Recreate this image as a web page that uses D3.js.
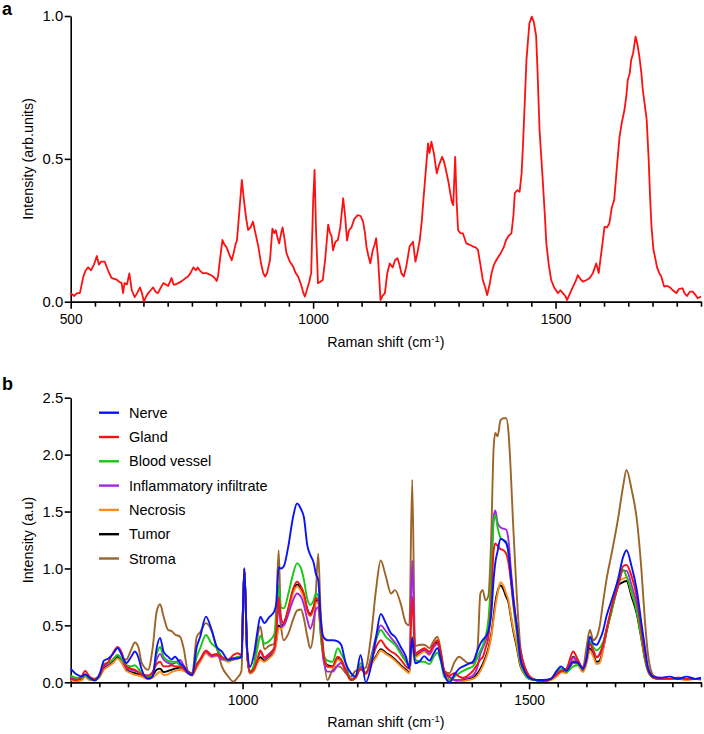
<!DOCTYPE html>
<html lang="en">
<head>
<meta charset="UTF-8" />
<title>Raman spectra</title>
<style>
  body { margin: 0; background: #fff; }
  svg { display: block; font-family: "Liberation Sans", Arial, sans-serif; }
  .axis path, .axis line { stroke: #000; stroke-width: 1.6px; }
  .axis text { fill: #000; font-family: "Liberation Sans", Arial, sans-serif; }
  .title { font-size: 14.3px; fill: #000; }
</style>
</head>
<body>
<svg id="chart" width="704" height="734"></svg>
<script src="https://cdn.jsdelivr.net/npm/d3@7"></script>
<script>
// ---- panel a: mean spectrum ----
const aShift = [500,507,513,519,526,531,536,542,548,554,558,563,570,577,584,590,595,600,605,608,611,616,621,626,632,637,643,647,651,656,660,665,670,675,680,686,691,696,701,705,708,712,715,722,729,735,742,747,753,758,762,766,772,780,787,794,798,801,804,808,813,817,821,826,832,836,840,843,848,853,857,862,866,871,876,881,887,892,897,901,905,911,916,920,923,927,930,934,937,941,945,952,959,964,969,975,980,983,987,992,996,1000,1003,1006,1010,1015,1020,1025,1031,1035,1038,1041,1046,1051,1056,1062,1066,1070,1074,1079,1085,1092,1098,1103,1107,1110,1114,1118,1123,1127,1130,1134,1139,1143,1148,1153,1158,1164,1169,1174,1178,1182,1187,1192,1199,1206,1211,1215,1220,1224,1228,1233,1237,1240,1244,1249,1255,1260,1266,1270,1274,1279,1283,1286,1289,1293,1296,1299,1304,1309,1316,1322,1330,1335,1340,1345,1350,1355,1359,1364,1368,1373,1378,1383,1387,1393,1398,1403,1409,1413,1416,1421,1426,1430,1433,1437,1440,1446,1451,1455,1460,1463,1467,1474,1478,1481,1486,1491,1497,1505,1510,1515,1520,1524,1530,1536,1541,1546,1551,1556,1563,1570,1577,1584,1589,1595,1601,1606,1611,1616,1621,1626,1632,1637,1642,1646,1649,1653,1656,1660,1665,1669,1673,1677,1680,1684,1688,1692,1695,1698,1702,1706,1709,1714,1718,1724,1730,1736,1742,1749,1755,1762,1766,1771,1777,1783,1788,1793,1800];
const aIntensity = [0.03,0.02,0.03,0.03,0.088,0.11,0.12,0.11,0.13,0.16,0.13,0.14,0.14,0.11,0.083,0.08,0.077,0.07,0.065,0.03,0.065,0.06,0.099,0.04,0.016,0.03,0.05,0.03,0.0,0.02,0.03,0.04,0.05,0.035,0.03,0.05,0.065,0.06,0.055,0.07,0.083,0.06,0.06,0.065,0.072,0.08,0.088,0.1,0.12,0.11,0.12,0.11,0.1,0.1,0.095,0.088,0.08,0.072,0.09,0.15,0.216,0.2,0.192,0.17,0.145,0.17,0.2,0.216,0.32,0.426,0.36,0.29,0.251,0.26,0.28,0.24,0.193,0.14,0.1,0.088,0.1,0.145,0.256,0.24,0.25,0.22,0.204,0.24,0.26,0.22,0.17,0.14,0.122,0.1,0.088,0.06,0.03,0.018,0.04,0.07,0.1,0.35,0.461,0.25,0.065,0.07,0.077,0.15,0.27,0.24,0.23,0.18,0.21,0.216,0.26,0.362,0.3,0.214,0.25,0.26,0.29,0.303,0.3,0.28,0.24,0.193,0.16,0.134,0.18,0.2,0.222,0.15,0.006,0.02,0.03,0.1,0.134,0.12,0.145,0.152,0.13,0.1,0.088,0.122,0.193,0.21,0.14,0.17,0.216,0.28,0.367,0.472,0.554,0.52,0.56,0.52,0.449,0.48,0.507,0.49,0.46,0.42,0.379,0.35,0.338,0.507,0.35,0.25,0.24,0.239,0.204,0.2,0.193,0.19,0.181,0.13,0.076,0.05,0.023,0.06,0.1,0.13,0.146,0.16,0.17,0.19,0.216,0.23,0.239,0.3,0.38,0.39,0.385,0.45,0.554,0.72,0.846,0.974,0.998,0.98,0.93,0.8,0.601,0.414,0.3,0.204,0.13,0.076,0.05,0.03,0.04,0.03,0.02,0.006,0.03,0.053,0.07,0.093,0.08,0.07,0.075,0.082,0.1,0.134,0.1,0.18,0.262,0.26,0.274,0.33,0.356,0.46,0.578,0.63,0.67,0.72,0.776,0.8,0.846,0.87,0.928,0.9,0.857,0.8,0.741,0.69,0.636,0.5,0.367,0.26,0.181,0.15,0.122,0.1,0.088,0.053,0.055,0.05,0.04,0.03,0.045,0.047,0.03,0.02,0.035,0.035,0.025,0.012,0.018];
const aXMajor = [500, 1000, 1500];
const aYTicks = [0, 0.5, 1.0];

// ---- panel b: tissue spectra ----
const bShift = [700,710,720,725,733,742,751,758,766,774, 782,789,797,805,812,818,824,835,843,850, 856,862,870,876,882,891,897,905,912,920, 926,936,946,955,964,975,984,991,998,1003, 1008,1013,1020,1026,1031,1038,1046,1055,1059,1063, 1067,1072,1080,1088,1095,1102,1107,1113,1118,1124, 1128,1132,1136,1141,1148,1157,1166,1172,1180,1189, 1197,1206,1215,1224,1233,1241,1250,1259,1266,1276, 1285,1291,1296,1301,1310,1317,1326,1333,1340,1346, 1352,1361,1370,1378,1385,1393,1402,1410,1415,1419, 1424,1429,1434,1438,1441,1445,1450,1455,1460,1464, 1468,1472,1478,1485,1492,1500,1512,1525,1538,1548, 1556,1565,1577,1585,1594,1600,1606,1612,1618,1623, 1629,1635,1644,1655,1664,1670,1679,1688,1696,1702, 1708,1717,1730,1745,1760,1775,1790,1800];
const nerve = [0.12,0.07,0.05,0.07,0.04,0.015,0.08,0.19,0.21,0.25, 0.30,0.24,0.17,0.22,0.27,0.22,0.11,0.03,0.05,0.30, 0.39,0.27,0.225,0.20,0.225,0.167,0.14,0.08,0.064,0.31, 0.40,0.577,0.46,0.31,0.27,0.196,0.21,0.21,0.225,1.0, 0.30,0.137,0.25,0.45,0.577,0.52,0.57,0.62,0.70,1.01, 1.0,1.02,1.20,1.45,1.57,1.52,1.45,1.20,1.12,1.05, 0.95,0.90,0.58,0.40,0.37,0.37,0.36,0.33,0.167,0.08, 0.05,0.24,0.0,0.137,0.40,0.60,0.52,0.43,0.40,0.31, 0.225,0.123,0.39,0.167,0.19,0.23,0.19,0.25,0.30,0.20, 0.07,0.0,0.07,0.12,0.14,0.16,0.18,0.28,0.34,0.37, 0.40,0.45,0.60,0.90,1.05,1.15,1.26,1.25,1.22,1.15, 0.95,0.75,0.52,0.20,0.10,0.04,0.02,0.02,0.03,0.10, 0.14,0.10,0.18,0.17,0.12,0.20,0.40,0.34,0.33,0.37, 0.45,0.58,0.72,0.90,1.10,1.16,1.015,0.81,0.52,0.31, 0.12,0.05,0.04,0.05,0.03,0.05,0.03,0.04];
const gland = [0.03,0.02,0.06,0.10,0.05,0.03,0.07,0.15,0.18,0.26, 0.31,0.26,0.14,0.12,0.11,0.09,0.07,0.06,0.09,0.16, 0.18,0.14,0.14,0.15,0.14,0.137,0.12,0.08,0.07,0.15, 0.20,0.28,0.24,0.25,0.22,0.20,0.24,0.255,0.24,1.0, 0.25,0.09,0.12,0.20,0.28,0.22,0.25,0.30,0.45,0.75, 0.56,0.52,0.66,0.82,0.884,0.84,0.78,0.64,0.59,0.66, 0.74,0.72,0.52,0.25,0.137,0.14,0.225,0.20,0.11,0.02, 0.04,0.12,0.08,0.18,0.31,0.37,0.31,0.27,0.25,0.20, 0.14,0.12,0.75,0.25,0.28,0.30,0.27,0.33,0.37,0.25, 0.10,0.06,0.08,0.05,0.04,0.06,0.10,0.16,0.20,0.22, 0.30,0.40,0.70,1.15,1.22,1.20,1.17,1.16,1.13,1.05, 0.90,0.72,0.50,0.27,0.14,0.06,0.02,0.01,0.03,0.07, 0.10,0.12,0.27,0.20,0.13,0.20,0.34,0.28,0.22,0.24, 0.33,0.46,0.66,0.84,1.02,1.03,0.93,0.75,0.45,0.24, 0.10,0.04,0.03,0.03,0.04,0.03,0.03,0.03];
const bloodVessel = [0.06,0.04,0.04,0.06,0.03,0.02,0.06,0.16,0.17,0.20, 0.24,0.20,0.15,0.14,0.15,0.12,0.08,0.05,0.08,0.25, 0.31,0.225,0.19,0.18,0.18,0.15,0.13,0.08,0.065,0.225, 0.30,0.415,0.34,0.30,0.225,0.19,0.21,0.22,0.23,1.0, 0.25,0.10,0.15,0.30,0.41,0.34,0.36,0.42,0.55,0.85, 0.66,0.65,0.78,0.95,1.045,1.0,0.90,0.73,0.68,0.72, 0.78,0.76,0.43,0.25,0.19,0.18,0.30,0.25,0.167,0.02, 0.05,0.167,0.08,0.20,0.37,0.46,0.40,0.36,0.33,0.25, 0.18,0.137,0.40,0.20,0.18,0.18,0.16,0.22,0.26,0.18, 0.05,0.02,0.05,0.08,0.10,0.12,0.14,0.22,0.28,0.32, 0.40,0.55,0.95,1.40,1.47,1.36,1.27,1.25,1.235,1.12, 0.92,0.70,0.45,0.18,0.08,0.03,0.02,0.01,0.03,0.09, 0.12,0.09,0.14,0.15,0.12,0.20,0.36,0.31,0.28,0.30, 0.35,0.46,0.62,0.85,0.99,0.93,0.80,0.62,0.40,0.20, 0.09,0.04,0.03,0.03,0.03,0.03,0.03,0.03];
const inflammatory = [0.04,0.03,0.04,0.07,0.04,0.03,0.06,0.14,0.16,0.20, 0.24,0.20,0.13,0.11,0.10,0.09,0.07,0.05,0.08,0.20, 0.25,0.20,0.17,0.16,0.17,0.196,0.15,0.09,0.07,0.16, 0.20,0.27,0.23,0.24,0.20,0.196,0.20,0.21,0.22,1.0, 0.25,0.09,0.12,0.20,0.27,0.21,0.24,0.29,0.45,0.68, 0.49,0.50,0.60,0.72,0.78,0.75,0.68,0.55,0.47,0.56, 0.64,0.66,0.45,0.20,0.094,0.094,0.15,0.17,0.10,0.03, 0.05,0.14,0.08,0.22,0.40,0.50,0.45,0.39,0.35,0.27, 0.19,0.14,1.07,0.26,0.27,0.29,0.25,0.31,0.34,0.22, 0.08,0.05,0.02,0.02,0.03,0.04,0.06,0.14,0.25,0.30, 0.36,0.45,0.90,1.45,1.51,1.40,1.36,1.35,1.34,1.25, 1.0,0.78,0.50,0.28,0.12,0.04,0.02,0.01,0.03,0.07, 0.10,0.11,0.22,0.17,0.12,0.22,0.35,0.27,0.22,0.25, 0.32,0.46,0.64,0.84,0.98,0.98,0.85,0.68,0.43,0.22, 0.10,0.04,0.03,0.03,0.04,0.03,0.03,0.03];
const necrosis = [0.02,0.01,0.02,0.05,0.02,0.02,0.05,0.11,0.14,0.17, 0.21,0.17,0.10,0.08,0.065,0.06,0.05,0.03,0.04,0.07, 0.094,0.064,0.07,0.09,0.10,0.11,0.10,0.08,0.06,0.13, 0.18,0.255,0.22,0.23,0.21,0.18,0.20,0.21,0.22,1.0, 0.25,0.08,0.10,0.17,0.20,0.18,0.21,0.26,0.35,0.48, 0.47,0.50,0.62,0.78,0.84,0.80,0.74,0.62,0.58,0.64, 0.70,0.70,0.48,0.24,0.14,0.13,0.20,0.18,0.10,0.02, 0.04,0.12,0.07,0.15,0.22,0.28,0.25,0.22,0.19,0.14, 0.10,0.08,0.30,0.22,0.25,0.27,0.24,0.30,0.34,0.22, 0.06,0.03,0.02,0.01,0.01,0.02,0.03,0.06,0.10,0.14, 0.20,0.28,0.40,0.55,0.66,0.78,0.88,0.85,0.78,0.72, 0.60,0.48,0.34,0.15,0.07,0.03,0.02,0.01,0.02,0.05, 0.09,0.08,0.20,0.16,0.09,0.16,0.28,0.225,0.16,0.17, 0.28,0.45,0.65,0.88,0.91,0.92,0.78,0.635,0.40,0.225, 0.11,0.05,0.03,0.03,0.03,0.02,0.03,0.02];
const tumor = [0.03,0.02,0.03,0.06,0.03,0.02,0.06,0.12,0.15,0.18, 0.22,0.18,0.11,0.09,0.08,0.07,0.06,0.04,0.06,0.11, 0.12,0.09,0.10,0.11,0.12,0.13,0.12,0.09,0.07,0.14, 0.19,0.27,0.23,0.24,0.22,0.19,0.21,0.22,0.23,1.0, 0.25,0.08,0.11,0.18,0.22,0.19,0.22,0.27,0.38,0.50, 0.48,0.52,0.64,0.80,0.86,0.82,0.76,0.64,0.60,0.66, 0.72,0.72,0.50,0.25,0.15,0.14,0.21,0.19,0.10,0.02, 0.04,0.12,0.08,0.16,0.23,0.29,0.26,0.23,0.20,0.15, 0.11,0.09,0.32,0.23,0.26,0.28,0.25,0.31,0.35,0.23, 0.07,0.04,0.02,0.01,0.02,0.03,0.04,0.08,0.12,0.16, 0.22,0.30,0.42,0.58,0.70,0.80,0.85,0.82,0.75,0.70, 0.58,0.46,0.32,0.14,0.07,0.03,0.02,0.01,0.03,0.06, 0.10,0.09,0.225,0.17,0.10,0.18,0.30,0.24,0.18,0.19, 0.29,0.44,0.63,0.85,0.88,0.89,0.75,0.60,0.38,0.21, 0.10,0.04,0.03,0.03,0.03,0.03,0.03,0.03];
const stroma = [0.03,0.02,0.03,0.06,0.03,0.02,0.06,0.13,0.16,0.19, 0.225,0.21,0.20,0.28,0.35,0.31,0.17,0.11,0.30,0.62, 0.685,0.58,0.46,0.45,0.42,0.40,0.30,0.094,0.08,0.40, 0.44,0.52,0.45,0.30,0.137,0.05,0.006,0.04,0.10,1.0, 0.25,0.08,0.15,0.40,0.49,0.29,0.32,0.34,0.70,1.16, 0.50,0.37,0.43,0.55,0.63,0.64,0.56,0.40,0.30,0.45, 0.80,1.13,0.64,0.28,0.02,0.11,0.14,0.13,0.08,0.05, 0.10,0.11,0.13,0.40,0.82,1.07,0.93,0.78,0.81,0.69, 0.52,0.50,1.78,0.32,0.33,0.33,0.30,0.36,0.40,0.28, 0.10,0.08,0.18,0.225,0.20,0.17,0.167,0.30,0.78,0.81, 0.72,0.76,1.30,2.05,2.19,2.16,2.30,2.32,2.32,2.20, 1.85,1.40,0.81,0.30,0.14,0.05,0.02,0.01,0.03,0.07, 0.10,0.09,0.17,0.16,0.13,0.30,0.46,0.37,0.40,0.49, 0.70,0.90,1.13,1.43,1.72,1.865,1.69,1.43,0.99,0.55, 0.225,0.06,0.03,0.03,0.03,0.03,0.03,0.03];
const tissueNames = ["Nerve", "Gland", "Blood vessel", "Inflammatory infiltrate", "Necrosis", "Tumor", "Stroma"];
const tissueValues = [nerve, gland, bloodVessel, inflammatory, necrosis, tumor, stroma];
const tissueColors = ["#0a14f5", "#f51414", "#14c814", "#a624e8", "#ff8c1a", "#000000", "#9c6428"];
const bXMajor = [1000, 1500];
const bYTicks = [0, 0.5, 1.0, 1.5, 2.0, 2.5];

const svg = d3.select("#chart");
const left = 70.7, right = 701;

// draw axes + titles for one panel, returns scales
function panel(top, bottom, xDomain, yDomain, xMajor, yTicks, yTitle) {
  const x = d3.scaleLinear().domain(xDomain).range([left, right]);
  const y = d3.scaleLinear().domain(yDomain).range([bottom, top]);
  const minor = d3.range(xDomain[0], xDomain[1] + 1, 50).filter(v => !xMajor.includes(v));

  svg.append("g").attr("class", "axis")
    .attr("transform", `translate(0,${bottom})`)
    .call(d3.axisBottom(x).tickValues(minor).tickSize(5).tickSizeOuter(0).tickFormat(""));
  svg.append("g").attr("class", "axis")
    .attr("transform", `translate(0,${bottom})`)
    .call(d3.axisBottom(x).tickValues(xMajor).tickSize(7).tickSizeOuter(0).tickPadding(6).tickFormat(d3.format("d")))
    .selectAll("text").style("font-size", "13.8px");
  svg.append("g").attr("class", "axis")
    .attr("transform", `translate(${left},0)`)
    .call(d3.axisLeft(y).tickValues(yTicks).tickSize(6).tickSizeOuter(0).tickPadding(1.5).tickFormat(d3.format(".1f")))
    .selectAll("text").style("font-size", "14.8px");

  const xt = svg.append("text").attr("class", "title")
    .attr("x", (left + right) / 2).attr("y", bottom + 45)
    .attr("text-anchor", "middle");
  xt.append("tspan").text("Raman shift (cm");
  xt.append("tspan").attr("dy", -5).style("font-size", "9.5px").text("-1");
  xt.append("tspan").attr("dy", 5).text(")");

  svg.append("text").attr("class", "title")
    .attr("transform", `translate(33,${(top + bottom) / 2}) rotate(-90)`)
    .attr("text-anchor", "middle")
    .text(yTitle);
  return { x, y };
}

// panel a
const pa = panel(16, 301.7, [500, 1800], [0, 1], aXMajor, aYTicks, "Intensity (arb.units)");
svg.append("path")
  .datum(aShift.map((s, i) => [s, aIntensity[i]]))
  .attr("fill", "none").attr("stroke", "#ff1010").attr("stroke-width", 1.8)
  .attr("stroke-linejoin", "round")
  .attr("d", d3.line().x(d => pa.x(d[0])).y(d => pa.y(d[1])));

// panel b
const pb = panel(397.7, 682.3, [700, 1800], [0, 2.5], bXMajor, bYTicks, "Intensity (a.u)");
const lineB = d3.line().curve(d3.curveMonotoneX).x(d => pb.x(d[0])).y(d => pb.y(d[1]));
// first series drawn last so it sits on top
d3.range(tissueNames.length).reverse().forEach(k => {
  svg.append("path")
    .datum(bShift.map((s, i) => [s, tissueValues[k][i]]))
    .attr("fill", "none").attr("stroke", tissueColors[k]).attr("stroke-width", 1.9)
    .attr("stroke-linejoin", "round")
    .attr("d", lineB);
});

// legend
const legend = svg.append("g");
tissueNames.forEach((name, i) => {
  const yy = 412.7 + i * 24.3;
  legend.append("line").attr("x1", 99).attr("x2", 119).attr("y1", yy).attr("y2", yy)
    .attr("stroke", tissueColors[i]).attr("stroke-width", 2.4);
  legend.append("text").attr("x", 129).attr("y", yy).attr("dy", "0.35em")
    .style("font-size", "14.5px").text(name);
});

// panel letters
svg.append("text").attr("x", 2).attr("y", 15).style("font-size", "18px").style("font-weight", "bold").text("a");
svg.append("text").attr("x", 2).attr("y", 390).style("font-size", "18px").style("font-weight", "bold").text("b");
</script>
</body>
</html>
